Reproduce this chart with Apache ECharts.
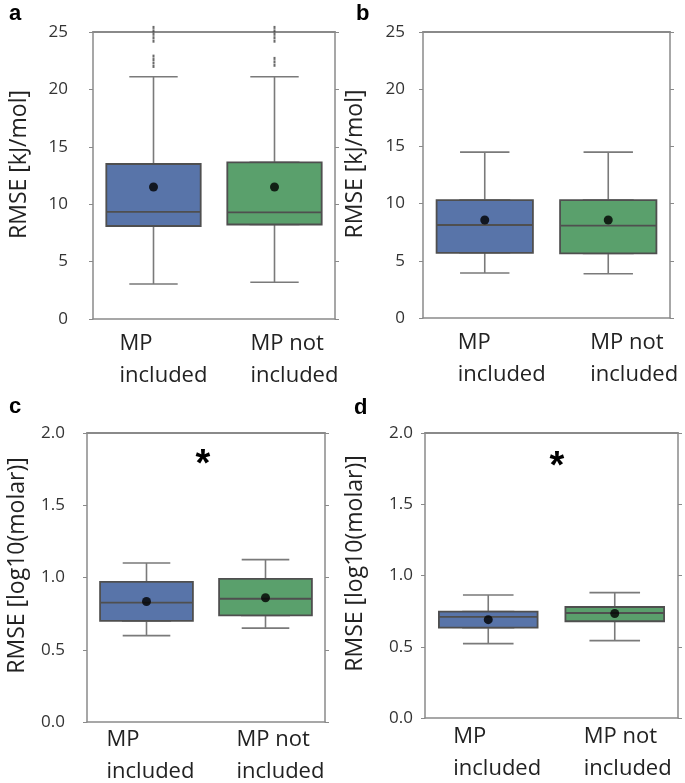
<!DOCTYPE html>
<html>
<head>
<meta charset="utf-8">
<script src="https://cdn.jsdelivr.net/npm/echarts@6/dist/echarts.min.js"></script>
<style>
html,body{margin:0;padding:0;background:#fff;}
#chart{width:685px;height:783px;}
</style>
</head>
<body>
<div id="chart"></div>
<script>
// ---------- data ----------
const categories = ['MP\nincluded', 'MP not\nincluded'];
// [min whisker, Q1, median, Q3, max whisker]
const boxA = [[3.05, 8.1, 9.33, 13.5, 21.1], [3.2, 8.23, 9.28, 13.65, 21.1]];
const meanA = [11.5, 11.5];
const outliersA1 = [22.0, 22.3, 22.6, 22.9, 24.2, 24.5, 24.8, 25.1, 25.4];
const outliersA2 = [22.1, 22.4, 22.7, 24.2, 24.5, 24.8, 25.1, 25.4];
const boxB = [[3.93, 5.7, 8.13, 10.3, 14.5], [3.87, 5.65, 8.07, 10.3, 14.5]];
const meanB = [8.57, 8.57];
const boxC = [[0.598, 0.70, 0.826, 0.97, 1.10], [0.65, 0.738, 0.853, 0.99, 1.124]];
const meanC = [0.834, 0.86];
const boxD = [[0.522, 0.634, 0.709, 0.747, 0.863], [0.543, 0.679, 0.737, 0.779, 0.88]];
const meanD = [0.69, 0.733];
const yNameKJ = 'RMSE [kJ/mol]';
const yNameLog = 'RMSE [log10(molar)]';
const panelLetters = ['a', 'b', 'c', 'd'];
const significance = '*';

// ---------- styles ----------
const FONT = '"Open Sans", "Noto Sans", sans-serif';
const boxColors = ['#5874a9', '#5aa06c'];
const frameColor = '#8a8a8a';
const panels = [
  {grid: {left: 93, top: 32, width: 242, height: 287}, box: boxA, mean: meanA, min: 0, max: 25, interval: 5, dec: 0, name: yNameKJ, nameGap: 62, namePad: 22, labelMargin: 25, catOff: [34, 24], catMargin: 9},
  {grid: {left: 423, top: 32, width: 247, height: 286}, box: boxB, mean: meanB, min: 0, max: 25, interval: 5, dec: 0, name: yNameKJ, nameGap: 56, namePad: 22, labelMargin: 18, catOff: [27, 18], catMargin: 9},
  {grid: {left: 87, top: 433, width: 238, height: 289}, box: boxC, mean: meanC, min: 0, max: 2, interval: 0.5, dec: 1, name: yNameLog, nameGap: 58, namePad: 24, labelMargin: 22, catOff: [40, 29], catMargin: 2},
  {grid: {left: 425, top: 433, width: 253, height: 285}, box: boxD, mean: meanD, min: 0, max: 2, interval: 0.5, dec: 1, name: yNameLog, nameGap: 58, namePad: 24, labelMargin: 12, catOff: [35, 31], catMargin: 3}
];

const grid = [], xAxis = [], yAxis = [], series = [];
panels.forEach((p, i) => {
  grid.push(Object.assign({containLabel: false}, p.grid));
  const rich = {};
  p.catOff.forEach((o, k) => {
    rich['c' + k] = {width: 2 * o, align: 'left', fontSize: 22, lineHeight: 32, fontFamily: FONT, color: '#222'};
  });
  // bottom category axis
  xAxis.push({
    type: 'category', gridIndex: i, data: categories, position: 'bottom',
    axisLine: {onZero: false, lineStyle: {color: frameColor, width: 1.5}},
    axisTick: {alignWithLabel: true, length: 4, lineStyle: {color: frameColor}},
    axisLabel: {
      margin: p.catMargin, interval: 0, rich: rich,
      formatter: (v, idx) => v.split('\n').map(s => '{c' + idx + '|' + s + '}').join('\n')
    }
  });
  // top category axis (frame)
  xAxis.push({
    type: 'category', gridIndex: i, data: categories, position: 'top',
    axisLine: {onZero: false, lineStyle: {color: frameColor, width: 2}},
    axisTick: {alignWithLabel: true, length: 4, lineStyle: {color: frameColor}},
    axisLabel: {show: false}
  });
  // left value axis
  yAxis.push({
    type: 'value', gridIndex: i, min: p.min, max: p.max, interval: p.interval, position: 'left',
    name: p.name, nameLocation: 'middle', nameGap: p.nameGap,
    nameTextStyle: {fontSize: 23, fontFamily: FONT, color: '#222', padding: [0, 0, 0, p.namePad]},
    axisLine: {show: true, onZero: false, lineStyle: {color: frameColor, width: 1.5}},
    axisTick: {show: true, length: 4, lineStyle: {color: frameColor}},
    splitLine: {show: false},
    axisLabel: {margin: p.labelMargin, fontSize: 17, fontFamily: FONT, color: '#333',
      formatter: v => v.toFixed(p.dec)}
  });
  // right value axis (frame)
  yAxis.push({
    type: 'value', gridIndex: i, min: p.min, max: p.max, interval: p.interval, position: 'right',
    axisLine: {show: true, onZero: false, lineStyle: {color: frameColor, width: 1.5}},
    axisTick: {show: true, length: 4, lineStyle: {color: frameColor}},
    splitLine: {show: false},
    axisLabel: {show: false}
  });
  // whiskers with narrow caps (on the top axis so they are not offset)
  series.push({
    type: 'boxplot', xAxisIndex: 2 * i + 1, yAxisIndex: 2 * i,
    boxWidth: ['40%', '40%'],
    itemStyle: {color: '#fff', borderColor: '#7a7a7a', borderWidth: 1.6},
    data: p.box.map(d => d.slice()),
    silent: true
  });
  // box bodies
  series.push({
    type: 'boxplot', xAxisIndex: 2 * i, yAxisIndex: 2 * i,
    boxWidth: ['78%', '78%'],
    data: p.box.map((d, k) => ({
      value: [d[1], d[1], d[2], d[3], d[3]],
      itemStyle: {color: boxColors[k], borderColor: '#4f4f4f', borderWidth: 1.8}
    })),
    silent: true
  });
  // means
  series.push({
    type: 'scatter', xAxisIndex: 2 * i, yAxisIndex: 2 * i, z: 5,
    symbol: 'circle', symbolSize: 9, itemStyle: {color: '#000'},
    data: p.mean.map((m, k) => [k, m]), silent: true
  });
});
// outliers panel a
series.push({
  type: 'scatter', xAxisIndex: 0, yAxisIndex: 0, clip: false, z: 5,
  symbol: 'rect', symbolSize: [2, 3], itemStyle: {color: '#444'},
  data: outliersA1.map(v => [0, v]).concat(outliersA2.map(v => [1, v])), silent: true
});

const chart = echarts.init(document.getElementById('chart'), null, {renderer: 'canvas'});
const letterPos = [[9, 14], [356, 14], [9, 407], [354, 408]];
const starPos = [[203, 466], [557, 468]];
const graphic = panelLetters.map((t, i) => ({
  type: 'text', left: letterPos[i][0], top: letterPos[i][1] - 11,
  style: {text: t, fontSize: 22, fontWeight: 'bold', fontFamily: '"Liberation Sans", Arial, sans-serif', fill: '#000'}
})).concat(starPos.map(pos => ({
  type: 'text', x: pos[0], y: pos[1],
  style: {text: significance, fontSize: 38, fontWeight: 'bold', fontFamily: '"Liberation Sans", Arial, sans-serif', fill: '#000', align: 'center', verticalAlign: 'middle'}
})));

chart.setOption({
  animation: false,
  backgroundColor: '#fff',
  grid, xAxis, yAxis, series, graphic
});
</script>
</body>
</html>
